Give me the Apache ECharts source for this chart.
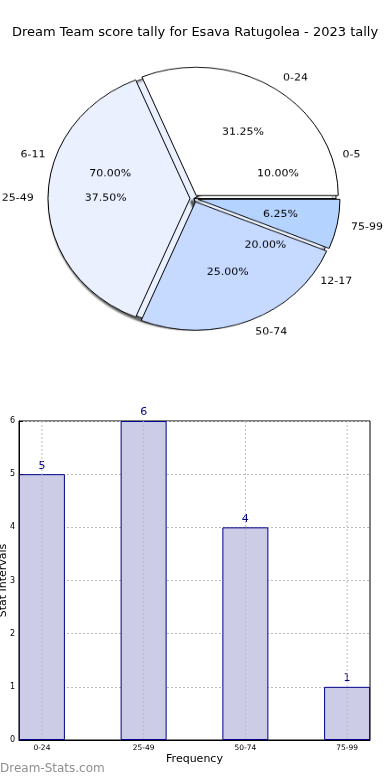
<!DOCTYPE html>
<html><head><meta charset="utf-8">
<script src="https://cdn.jsdelivr.net/npm/echarts@6/dist/echarts.min.js"></script>
<style>
html,body{margin:0;padding:0;background:#fff}
#wrap{position:relative;width:390px;height:780px}
#c{position:absolute;left:0;top:0;width:390px;height:780px}
#p{position:absolute;left:0;top:0;width:390px;height:420px;transform:scaleY(0.904);transform-origin:0 0;pointer-events:none}
</style>
</head><body><div id="wrap"><div id="c"></div><div id="p"></div></div>
<script>
const titleText = 'Dream Team score tally for Esava Ratugolea - 2023 tally';
const outerCats = ['0-24', '25-49', '50-74', '75-99'];
const outerVals = [5, 6, 4, 1];
const innerCats = ['0-5', '6-11', '12-17'];
const innerVals = [1, 7, 2];
const yTicks = [0, 1, 2, 3, 4, 5, 6];
const outerColors = ['#FFFFFF', '#EAF0FE', '#C6D9FF', '#B4D3FF'];
const innerColors = ['#FFFFFF', '#EAF0FE', '#EAF0FE'];

const FONT = 'DejaVu Sans';
const CX = 194, CY = 219.6, R = 142;
const pctFmt = p => p.percent.toFixed(2) + '%';

const chart = echarts.init(document.getElementById('c'), null, {renderer: 'canvas'});
const pie = echarts.init(document.getElementById('p'), null, {renderer: 'canvas'});

function nameSeries(cats, vals, colors, explode, z, shadow) {
  return {
    type: 'pie', z: z, center: [CX, CY], radius: [0, R],
    startAngle: 0, clockwise: false, avoidLabelOverlap: false,
    selectedMode: explode ? 'multiple' : false, selectedOffset: explode,
    animation: false, silent: true,
    itemStyle: Object.assign({borderColor: '#000', borderWidth: 1},
      shadow ? {shadowColor: 'rgba(0,0,0,0.6)', shadowBlur: 2, shadowOffsetX: -3, shadowOffsetY: 3} : {}),
    select: {itemStyle: {borderColor: '#000', borderWidth: 1}},
    label: {show: true, position: 'outside', formatter: '{b}', color: '#000',
      fontFamily: FONT, fontSize: 11, distanceToLabelLine: 0},
    labelLine: {show: false, length: R * 0.1, length2: 0},
    data: cats.map((c, i) => ({name: c, value: vals[i], selected: !!explode,
      itemStyle: {color: colors[i]}}))
  };
}
function pctSeries(cats, vals, z) {
  return {
    type: 'pie', z: z, center: [CX, CY], radius: [R * 0.2, R],
    startAngle: 0, clockwise: false, avoidLabelOverlap: false,
    animation: false, silent: true,
    itemStyle: {color: 'rgba(0,0,0,0)', borderWidth: 0},
    label: {show: true, position: 'inside', formatter: pctFmt, color: '#000',
      fontFamily: FONT, fontSize: 11},
    labelLine: {show: false},
    data: cats.map((c, i) => ({name: c, value: vals[i]}))
  };
}

pie.setOption({
  backgroundColor: 'transparent',
  animation: false,
  series: [
    nameSeries(innerCats, innerVals, innerColors, 0, 1, true),
    nameSeries(outerCats, outerVals, outerColors, 4, 2, false),
    pctSeries(innerCats, innerVals, 3),
    pctSeries(outerCats, outerVals, 3)
  ]
});

chart.setOption({
  backgroundColor: '#fff',
  animation: false,
  title: {text: titleText, left: 'center', top: 21,
    textStyle: {fontFamily: FONT, fontSize: 13, fontWeight: 'normal', color: '#000'}},
  grid: {left: 19, right: 20, top: 421, bottom: 40, show: true, borderColor: '#000', borderWidth: 1,
    backgroundColor: 'transparent', containLabel: false, outerBoundsMode: 'none'},
  xAxis: {
    type: 'value', min: -0.225, max: 3.225,
    name: 'Frequency', nameLocation: 'middle', nameGap: 14, nameMoveOverlap: false,
    nameTextStyle: {fontFamily: FONT, fontSize: 11, color: '#000'},
    axisLine: {show: true, onZero: false, lineStyle: {color: '#000', width: 1}},
    axisTick: {show: true, inside: true, length: 4, lineStyle: {color: '#000'},
      customValues: outerCats.map((_, i) => i)},
    axisLabel: {customValues: outerCats.map((_, i) => i), formatter: v => outerCats[Math.round(v)],
      fontFamily: FONT, fontSize: 7.5, color: '#000', margin: 4},
    splitLine: {show: false}
  },
  yAxis: {
    type: 'value', min: 0, max: 6, interval: 1,
    name: 'Stat Intervals', nameLocation: 'middle', nameGap: 10, nameMoveOverlap: false,
    nameTextStyle: {fontFamily: FONT, fontSize: 11, color: '#000'},
    axisLine: {show: true, onZero: false, lineStyle: {color: '#000', width: 1}},
    axisTick: {show: true, inside: true, length: 4, lineStyle: {color: '#000'}},
    axisLabel: {fontFamily: FONT, fontSize: 8, color: '#000', margin: 4,
      formatter: v => yTicks.includes(v) ? String(v) : ''},
    splitLine: {show: true, lineStyle: {color: '#bbb', type: [2, 2], width: 1}}
  },
  graphic: [{type: 'text', left: 0, top: 763, silent: true,
    style: {text: 'Dream-Stats.com', fill: '#8f8f8f', fontFamily: FONT, fontSize: 12, fontWeight: 'normal'}}],
  series: [
    {
      type: 'bar', barWidth: 46, animation: false,
      itemStyle: {color: '#CCCCE6', borderColor: '#00008B', borderWidth: 1},
      label: {show: true, position: 'top', distance: 3, color: '#00008B', fontFamily: FONT, fontSize: 11,
        formatter: p => String(p.value[1])},
      data: outerVals.map((v, i) => [i, v])
    },
    {
      type: 'custom', animation: false, silent: true, z: 5,
      data: outerCats.map((_, i) => [i, 6]),
      renderItem: (params, api) => {
        const top = api.coord([api.value(0), api.value(1)]);
        const bot = api.coord([api.value(0), 0]);
        return {type: 'line', shape: {x1: top[0], y1: top[1], x2: bot[0], y2: bot[1]},
          style: {stroke: '#bbb', lineWidth: 1, lineDash: [2, 2]}};
      }
    }
  ]
});
</script></body></html>
